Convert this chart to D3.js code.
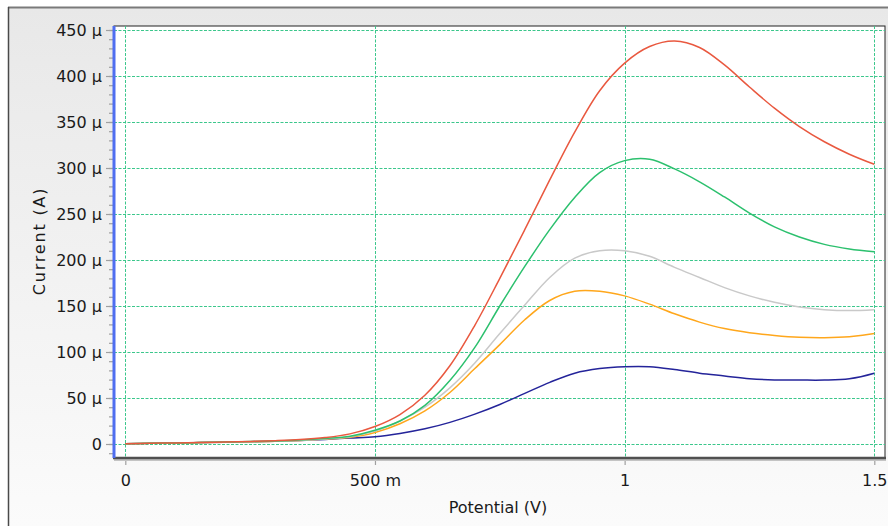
<!DOCTYPE html>
<html lang="en">
<head>
<meta charset="UTF-8">
<title>Current vs Potential</title>
<style>
  html, body { margin: 0; padding: 0; background: #fff; }
  svg text { font-family: 'DejaVu Sans', Verdana, sans-serif; fill: #1a1a1a; }
</style>
</head>
<body>
<div id="chart"></div>
<script src="https://d3js.org/d3.v7.min.js"></script>
<script>
// potential (V)
var potential = [0, 0.05, 0.1, 0.15, 0.2, 0.25, 0.3, 0.35, 0.4, 0.45, 0.5, 0.55, 0.6, 0.65, 0.7, 0.75,
  0.8, 0.85, 0.9, 0.95, 1.0, 1.05, 1.1, 1.15, 1.2, 1.25, 1.3, 1.35, 1.4, 1.45, 1.5];

// current (µA), one array per curve
var redCurve = [0.3, 0.8, 1.2, 1.7, 2.2, 2.8, 3.6, 4.8, 7, 11, 19, 32, 53, 85, 129, 180,
  233, 287, 339, 384, 414, 432, 438, 431, 412, 388, 365, 345, 328.5, 315, 304];
var greenCurve = [0.3, 0.8, 1.2, 1.6, 2.1, 2.6, 3.3, 4.3, 6, 8.5, 15, 25, 42, 69, 105, 150,
  193, 233, 268, 295, 308, 309.5, 299, 285, 268.5, 251, 236, 225, 217, 212, 209];
var grayCurve = [0.3, 0.7, 1.1, 1.6, 2, 2.5, 3.1, 4, 5.5, 8, 14, 25, 40, 61, 88, 120,
  151, 181, 202, 210, 210, 204, 192, 181, 170, 161, 154, 149, 146, 145, 146];
var orangeCurve = [0.3, 0.7, 1.1, 1.5, 2, 2.5, 3, 3.9, 5.3, 7.3, 12.5, 22, 36, 56, 82, 108,
  135, 156, 166, 166, 161, 152, 141.5, 132.5, 125.5, 121, 118, 116, 115.5, 116.5, 120];
var navyCurve = [0.3, 0.7, 1.1, 1.5, 2, 2.5, 3, 3.8, 5, 6.5, 8, 11.5, 16.5, 23.5, 32.5, 43,
  55, 67, 77, 82, 84, 84, 81, 77, 74, 71, 69.6, 69.5, 69.5, 71, 77];

var xTicks = [0, 0.5, 1, 1.5];
var xTickLabels = ["0", "500 m", "1", "1.5"];
var yTicks = [0, 50, 100, 150, 200, 250, 300, 350, 400, 450];
var yTickLabels = ["0", "50 µ", "100 µ", "150 µ", "200 µ", "250 µ", "300 µ", "350 µ", "400 µ", "450 µ"];
var yMinor = d3.range(-10, 451, 10);

var W = 888, H = 526;
var plot = {left: 114, top: 26, right: 885, bottom: 458};

var svg = d3.select("#chart").append("svg")
  .attr("width", W).attr("height", H);

var defs = svg.append("defs");
var grad = defs.append("linearGradient").attr("id", "bg")
  .attr("x1", 0).attr("y1", 0).attr("x2", 0).attr("y2", 1);
grad.append("stop").attr("offset", "0%").attr("stop-color", "#e8e8e8");
grad.append("stop").attr("offset", "100%").attr("stop-color", "#fbfbfb");

// outer panel
svg.append("rect").attr("x", 8).attr("y", 7).attr("width", W - 8).attr("height", H - 7)
  .attr("fill", "url(#bg)");
svg.append("line").attr("x1", 8).attr("x2", W).attr("y1", 7.5).attr("y2", 7.5)
  .attr("stroke", "#7a7a7a").attr("stroke-width", 2);
svg.append("line").attr("x1", 8.5).attr("x2", 8.5).attr("y1", 7).attr("y2", H)
  .attr("stroke", "#4a4a4a").attr("stroke-width", 1.5);

// plot area
svg.append("rect")
  .attr("x", plot.left).attr("y", plot.top)
  .attr("width", plot.right - plot.left).attr("height", plot.bottom - plot.top)
  .attr("fill", "#fff").attr("stroke", "#222").attr("stroke-width", 1);

var x = d3.scaleLinear().domain([0, 1.5]).range([125.3, 874.3]);
var y = d3.scaleLinear().domain([0, 450]).range([444, 30]);

// grid
var grid = svg.append("g").attr("stroke", "#3cc78c").attr("stroke-width", 1)
  .attr("stroke-dasharray", "3,1.5");
grid.selectAll(".gx").data(xTicks).join("line")
  .attr("x1", d => Math.round(x(d)) + 0.5).attr("x2", d => Math.round(x(d)) + 0.5)
  .attr("y1", plot.top).attr("y2", plot.bottom);
grid.selectAll(".gy").data(yTicks).join("line")
  .attr("x1", plot.left).attr("x2", plot.right)
  .attr("y1", d => Math.round(y(d)) + 0.5).attr("y2", d => Math.round(y(d)) + 0.5);

// curves
var series = [
  {values: navyCurve, color: "#24249a"},
  {values: orangeCurve, color: "#ffa71c"},
  {values: grayCurve, color: "#c9c9c9"},
  {values: greenCurve, color: "#2cc06e"},
  {values: redCurve, color: "#e9583f"}
];
var line = d3.line()
  .x((d, i) => x(potential[i]))
  .y(d => y(d))
  .curve(d3.curveCatmullRom.alpha(0.5));
svg.append("g").selectAll("path").data(series).join("path")
  .attr("d", d => line(d.values))
  .attr("fill", "none")
  .attr("stroke", d => d.color)
  .attr("stroke-width", 1.5);

// y axis minor ticks
svg.append("g")
  .attr("transform", "translate(" + (plot.left - 1) + ",0)")
  .call(d3.axisLeft(y).tickValues(yMinor).tickSize(4).tickFormat(""))
  .call(g => g.select(".domain").remove())
  .call(g => g.selectAll("line").attr("stroke", "#a0a0a0").attr("stroke-width", 1.2));

// y axis major ticks + labels
svg.append("g")
  .attr("transform", "translate(" + (plot.left - 1) + ",0)")
  .call(d3.axisLeft(y).tickValues(yTicks).tickSize(7).tickPadding(4)
    .tickFormat((d, i) => yTickLabels[i]))
  .call(g => g.select(".domain").remove())
  .call(g => g.selectAll("line").attr("stroke", "#a0a0a0").attr("stroke-width", 1.2))
  .call(g => g.selectAll("text").attr("font-size", 16).attr("fill", "#1a1a1a"));

// x axis
svg.append("g")
  .attr("transform", "translate(0," + plot.bottom + ")")
  .call(d3.axisBottom(x).tickValues(xTicks).tickSize(7).tickPadding(10)
    .tickFormat((d, i) => xTickLabels[i]))
  .call(g => g.select(".domain").remove())
  .call(g => g.selectAll("line").attr("stroke", "#a0a0a0").attr("stroke-width", 1.2))
  .call(g => g.selectAll("text").attr("font-size", 16).attr("fill", "#1a1a1a"));

// axis borders
svg.append("line").attr("x1", plot.left).attr("x2", plot.right + 1)
  .attr("y1", plot.bottom + 2).attr("y2", plot.bottom + 2)
  .attr("stroke", "#c4c4c4").attr("stroke-width", 2);
svg.append("line").attr("x1", plot.left - 1).attr("x2", plot.right + 1)
  .attr("y1", plot.bottom).attr("y2", plot.bottom)
  .attr("stroke", "#505050").attr("stroke-width", 2.5);
svg.append("line").attr("x1", plot.left).attr("x2", plot.left)
  .attr("y1", plot.top).attr("y2", plot.bottom)
  .attr("stroke", "#4f6ef0").attr("stroke-width", 3);

// titles
svg.append("text")
  .attr("x", 498).attr("y", 513)
  .attr("text-anchor", "middle").attr("font-size", 16)
  .text("Potential (V)");
svg.append("text")
  .attr("transform", "translate(45,241) rotate(-90)")
  .attr("text-anchor", "middle").attr("font-size", 16)
  .attr("letter-spacing", 1.8)
  .text("Current (A)");
</script>
</body>
</html>
